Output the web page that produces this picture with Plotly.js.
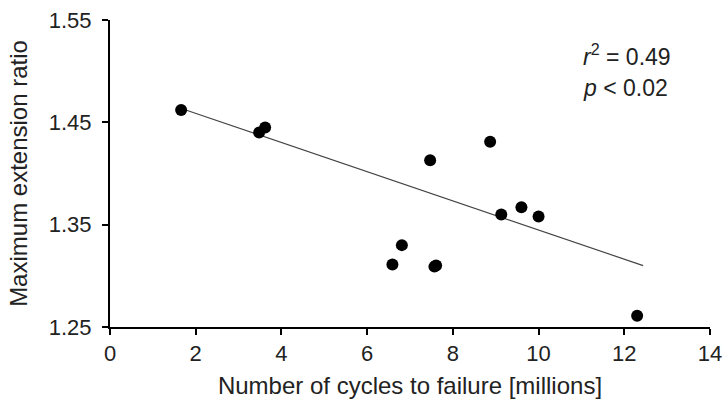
<!DOCTYPE html>
<html>
<head>
<meta charset="utf-8">
<script src="https://cdn.plot.ly/plotly-3.0.1.min.js"></script>
<style>html,body{margin:0;padding:0;background:#fff;}#chart{width:723px;height:401px;}</style>
</head>
<body>
<div id="chart"></div>
<script>
// Data
const cycles = [1.66, 3.48, 3.62, 6.59, 6.81, 7.47, 7.57, 7.61, 8.87, 9.13, 9.60, 10.0, 12.3];
const extensionRatio = [1.462, 1.440, 1.445, 1.311, 1.330, 1.413, 1.309, 1.310, 1.431, 1.360, 1.367, 1.358, 1.261];
// Regression line endpoints
const fitX = [1.7, 12.44];
const fitY = [1.463, 1.310];
const yTicks = [1.25, 1.35, 1.45, 1.55];
const xTicks = [0, 2, 4, 6, 8, 10, 12, 14];

const font = 'Liberation Sans, Arial, Helvetica, sans-serif';

const traces = [
  {x: fitX, y: fitY, mode: 'lines', type: 'scatter',
   line: {color: '#444', width: 1.2}, hoverinfo: 'skip', showlegend: false},
  {x: cycles, y: extensionRatio, mode: 'markers', type: 'scatter',
   marker: {color: '#000', size: 12}, cliponaxis: false, showlegend: false}
];

const layout = {
  width: 723, height: 401,
  margin: {l: 110, r: 13, t: 20, b: 74},
  paper_bgcolor: '#fff', plot_bgcolor: '#fff',
  font: {family: font, color: '#222', size: 22},
  showlegend: false,
  xaxis: {
    range: [0, 14], tickvals: xTicks, ticktext: xTicks.map(String),
    showgrid: false, zeroline: false, showline: true, linecolor: '#000', linewidth: 2,
    ticks: 'outside', ticklen: 6, tickwidth: 2, tickcolor: '#000',
    tickfont: {size: 22, color: '#222', family: font},
    title: {text: 'Number of cycles to failure [millions]', font: {size: 24, color: '#222', family: font}, standoff: 12}
  },
  yaxis: {
    range: [1.25, 1.55], tickvals: yTicks, ticktext: yTicks.map(v => v.toFixed(2)),
    showgrid: false, zeroline: false, showline: true, linecolor: '#000', linewidth: 2,
    ticks: 'outside', ticklen: 6, tickwidth: 2, tickcolor: '#000', ticklabelstandoff: 6,
    tickfont: {size: 22, color: '#222', family: font},
    title: {text: 'Maximum extension ratio', font: {size: 24, color: '#222', family: font}, standoff: 14}
  },
  annotations: [
    {xref: 'paper', yref: 'paper', x: 0.785, y: 0.886, xanchor: 'left', yanchor: 'middle',
     text: '<i>r</i><sup>2</sup> = 0.49', showarrow: false, font: {size: 23, color: '#222', family: font}},
    {xref: 'paper', yref: 'paper', x: 0.785, y: 0.778, xanchor: 'left', yanchor: 'middle',
     text: '<i>p</i> &lt; 0.02', showarrow: false, font: {size: 23, color: '#222', family: font}}
  ]
};

Plotly.newPlot('chart', traces, layout, {displayModeBar: false, staticPlot: true});
</script>
</body>
</html>
